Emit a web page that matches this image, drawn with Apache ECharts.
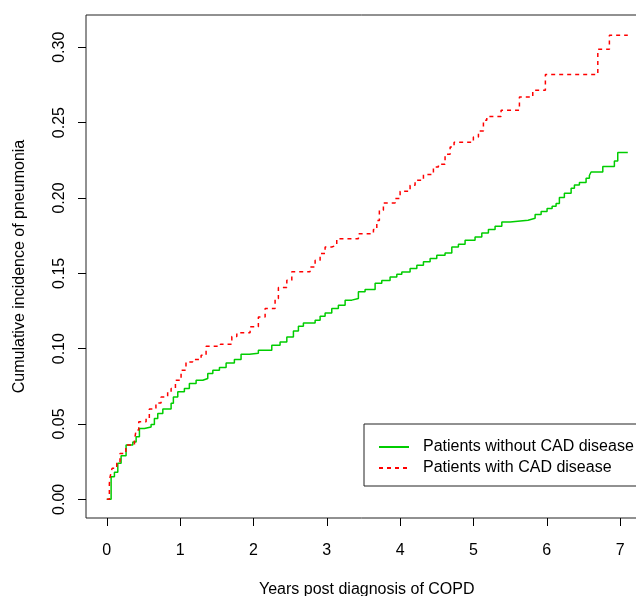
<!DOCTYPE html>
<html>
<head>
<meta charset="utf-8">
<script src="https://cdn.jsdelivr.net/npm/echarts@6/dist/echarts.min.js"></script>
<style>
html,body{margin:0;padding:0;background:#fff;}
#chart{width:636px;height:596px;}
</style>
</head>
<body>
<div id="chart"></div>
<script>
// ---- data ----
const seriesNames = ['Patients without CAD disease', 'Patients with CAD disease'];
const xTicks = [0, 1, 2, 3, 4, 5, 6, 7];
const yTicks = [0, 0.05, 0.10, 0.15, 0.20, 0.25, 0.30];

const noCadTimes = [0, 0.059, 0.104, 0.150, 0.195, 0.263, 0.355, 0.400, 0.445, 0.513, 0.604, 0.649, 0.695, 0.764, 0.877, 0.908, 0.968, 1.058, 1.126, 1.218, 1.309, 1.377, 1.446, 1.536, 1.627, 1.740, 1.831, 1.945, 2.067, 2.250, 2.363, 2.455, 2.545, 2.613, 2.681, 2.841, 2.909, 2.977, 3.068, 3.158, 3.250, 3.341, 3.431, 3.522, 3.659, 3.750, 3.863, 3.955, 4.023, 4.136, 4.228, 4.318, 4.409, 4.500, 4.613, 4.705, 4.795, 4.886, 5.022, 5.114, 5.204, 5.295, 5.387, 5.500, 5.745, 5.841, 5.923, 6.004, 6.073, 6.127, 6.172, 6.240, 6.332, 6.377, 6.445, 6.536, 6.581, 6.604, 6.764, 6.922, 6.968, 7.105];
const noCadValues = [0, 0.015, 0.018, 0.024, 0.029, 0.036, 0.038, 0.0415, 0.047, 0.048, 0.0497, 0.0537, 0.057, 0.060, 0.0637, 0.068, 0.0714, 0.0736, 0.0769, 0.079, 0.0802, 0.0836, 0.0857, 0.0875, 0.0905, 0.0928, 0.0963, 0.0970, 0.0990, 0.1023, 0.1045, 0.1078, 0.1118, 0.1149, 0.1171, 0.1189, 0.1215, 0.1237, 0.1267, 0.1288, 0.1322, 0.1333, 0.1377, 0.1393, 0.1434, 0.1452, 0.1476, 0.1494, 0.1509, 0.1532, 0.1554, 0.1576, 0.1598, 0.1620, 0.1635, 0.1675, 0.1693, 0.1720, 0.1741, 0.1768, 0.1790, 0.1812, 0.1841, 0.1852, 0.1865, 0.1890, 0.1910, 0.1930, 0.1945, 0.1963, 0.2003, 0.2031, 0.2064, 0.2086, 0.2102, 0.2131, 0.2149, 0.2172, 0.2208, 0.2245, 0.2301, 0.2301];

const cadTimes = [0, 0.035, 0.045, 0.072, 0.136, 0.180, 0.260, 0.377, 0.400, 0.436, 0.536, 0.580, 0.670, 0.740, 0.830, 0.877, 0.936, 1.013, 1.080, 1.170, 1.286, 1.354, 1.550, 1.705, 1.773, 1.954, 2.067, 2.159, 2.295, 2.340, 2.455, 2.523, 2.772, 2.841, 2.909, 2.977, 3.068, 3.136, 3.431, 3.636, 3.682, 3.717, 3.772, 3.932, 4.000, 4.136, 4.204, 4.318, 4.454, 4.522, 4.613, 4.682, 4.736, 4.999, 5.068, 5.136, 5.182, 5.377, 5.627, 5.809, 5.981, 6.696, 6.854, 7.105];
const cadValues = [0, 0.0106, 0.015, 0.0206, 0.024, 0.0305, 0.036, 0.0393, 0.046, 0.0515, 0.054, 0.060, 0.064, 0.068, 0.0714, 0.0736, 0.079, 0.0857, 0.0912, 0.0928, 0.0957, 0.1016, 0.1030, 0.108, 0.1105, 0.1145, 0.121, 0.1267, 0.1333, 0.1406, 0.1454, 0.151, 0.1542, 0.1587, 0.1631, 0.1675, 0.1686, 0.1730, 0.1762, 0.179, 0.185, 0.1918, 0.1967, 0.1996, 0.2044, 0.2084, 0.2117, 0.2155, 0.2206, 0.2223, 0.229, 0.2338, 0.2369, 0.2404, 0.2445, 0.2515, 0.2540, 0.2582, 0.2670, 0.2714, 0.2820, 0.2986, 0.3079, 0.3079];

const xTitle = 'Years post diagnosis of COPD';
const yTitle = 'Cumulative incidence of pneumonia';

function pairs(ts, vs) { return ts.map((t, i) => [t, vs[i]]); }

const font = 'Liberation Sans, Arial, sans-serif';
const chart = echarts.init(document.getElementById('chart'), null, {renderer: 'canvas'});
chart.setOption({
  backgroundColor: '#fff',
  animation: false,
  grid: {
    left: 86, top: 15, right: -11.5, bottom: 78,
    containLabel: false, outerBoundsMode: 'none',
    show: true, borderColor: '#222', borderWidth: 1, backgroundColor: 'transparent'
  },
  xAxis: {
    type: 'value',
    min: -0.2836, max: 7.3736,
    name: xTitle, nameLocation: 'middle', nameGap: 64,
    nameTextStyle: {fontFamily: font, fontSize: 16, color: '#000'},
    axisLine: {show: false, onZero: false},
    splitLine: {show: false},
    axisTick: {show: true, inside: false, length: 8, lineStyle: {color: '#000', width: 1}, customValues: xTicks},
    axisLabel: {margin: 25, fontFamily: font, fontSize: 16, color: '#000', customValues: xTicks,
      formatter: v => String(v)}
  },
  yAxis: {
    type: 'value',
    min: -0.01236, max: 0.3214,
    name: yTitle, nameLocation: 'middle', nameGap: 58, nameRotate: 90,
    nameTextStyle: {fontFamily: font, fontSize: 16, color: '#000'},
    axisLine: {show: false, onZero: false},
    splitLine: {show: false},
    axisTick: {show: true, inside: false, length: 8, lineStyle: {color: '#000', width: 1}, customValues: yTicks},
    axisLabel: {margin: 18, rotate: 90, fontFamily: font, fontSize: 16, color: '#000', customValues: yTicks,
      formatter: v => v.toFixed(2)}
  },
  legend: {
    orient: 'vertical',
    left: 364, top: 424,
    data: seriesNames,
    itemWidth: 30, itemHeight: 14, itemGap: 5,
    padding: [15, 60, 10, 14],
    borderColor: '#222', borderWidth: 1, backgroundColor: '#fff', borderRadius: 0,
    itemStyle: {opacity: 0},
    textStyle: {fontFamily: font, fontSize: 16, color: '#000', padding: [0, 0, 0, 9]},
    selectedMode: false
  },
  series: [
    {
      name: seriesNames[0], type: 'line', step: 'end', symbol: 'none',
      data: pairs(noCadTimes, noCadValues),
      lineStyle: {color: '#00CD00', width: 1.5, type: 'solid'},
      itemStyle: {color: '#00CD00'}
    },
    {
      name: seriesNames[1], type: 'line', step: 'end', symbol: 'none',
      data: pairs(cadTimes, cadValues),
      lineStyle: {color: '#FF0000', width: 1.5, type: [4, 4]},
      itemStyle: {color: '#FF0000'}
    }
  ]
});
</script>
</body>
</html>
